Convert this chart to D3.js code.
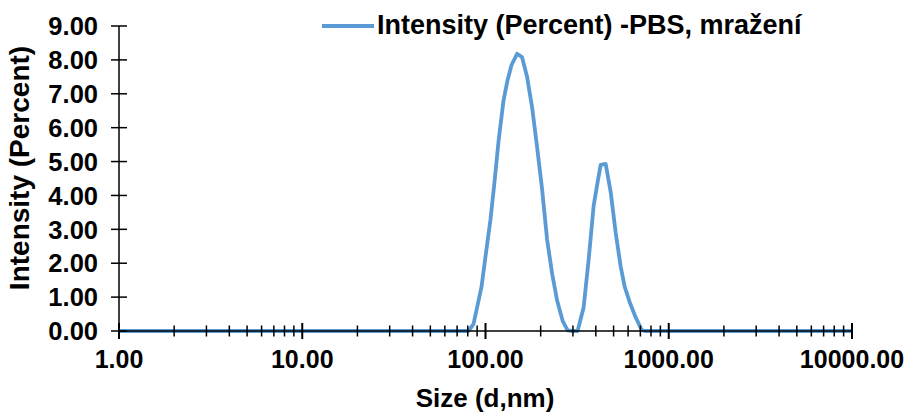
<!DOCTYPE html>
<html>
<head>
<meta charset="utf-8">
<script src="https://cdn.jsdelivr.net/npm/d3@7"></script>
<style>
  html, body { margin: 0; padding: 0; background: #fff; }
  svg text { font-family: "Liberation Sans", Arial, sans-serif; font-weight: bold; fill: #000; }
</style>
</head>
<body>
<svg id="chart" width="907" height="416"></svg>
<script>
// ---- data ----
const sizes = [1, 80.7, 86.0, 90.4, 95.1, 100.0, 106.5, 112.0, 117.8, 125.4, 131.9, 138.7, 148.7, 158.3, 168.6, 179.6, 191.1, 203.5, 216.8, 230.9, 245.9, 263.6, 280.6, 298.8, 318.2, 343.2, 365.4, 389.3, 409.3, 425.1, 452.6, 482.2, 513.4, 546.7, 575.0, 612.3, 660.2, 712.1, 739.5, 10000];
const intensity = [0, 0, 0.2, 0.75, 1.3, 2.2, 3.3, 4.4, 5.6, 6.8, 7.4, 7.85, 8.18, 8.08, 7.5, 6.6, 5.44, 4.2, 2.7, 1.7, 0.9, 0.3, 0.02, 0, 0, 0.7, 2.1, 3.7, 4.4, 4.9, 4.93, 4.1, 2.9, 1.9, 1.3, 0.85, 0.4, 0.03, 0, 0];
const yTicks = [0, 1, 2, 3, 4, 5, 6, 7, 8, 9];
const xMajor = [1, 10, 100, 1000, 10000];
const seriesName = "Intensity (Percent) -PBS, mražení";
const xTitle = "Size (d,nm)";
const yTitle = "Intensity (Percent)";

// ---- layout ----
const pLeft = 119, pRight = 852, pTop = 26, pBottom = 331;
const svg = d3.select("#chart");
const x = d3.scaleLog().domain([1, 10000]).range([pLeft, pRight]);
const y = d3.scaleLinear().domain([0, 9]).range([pBottom, pTop]);
const color = "#5B9BD5";

// minor ticks
const xMinor = [];
for (let p = 0; p < 4; p++) for (let k = 2; k <= 9; k++) xMinor.push(k * Math.pow(10, p));

const g = svg.append("g");

// line
const pts = sizes.map((s, i) => [s, intensity[i]]);
g.append("path")
  .datum(pts)
  .attr("fill", "none")
  .attr("stroke", color)
  .attr("stroke-width", 3.8)
  .attr("stroke-linejoin", "round")
  .attr("d", d3.line().x(d => x(d[0])).y(d => y(d[1])));

// y axis
g.append("line").attr("x1", pLeft).attr("x2", pLeft).attr("y1", pTop).attr("y2", pBottom)
  .attr("stroke", "#000").attr("stroke-width", 1.5);
g.selectAll(".yt").data(yTicks).enter().append("line")
  .attr("x1", pLeft - 8).attr("x2", pLeft + 8)
  .attr("y1", d => y(d)).attr("y2", d => y(d))
  .attr("stroke", "#000").attr("stroke-width", 1.5);
g.selectAll(".yl").data(yTicks).enter().append("text")
  .attr("x", 98).attr("y", d => y(d))
  .attr("dy", "0.36em")
  .attr("text-anchor", "end")
  .attr("font-size", 25.5)
  .text(d => d.toFixed(2));

// x axis
g.append("line").attr("x1", pLeft).attr("x2", pRight).attr("y1", pBottom).attr("y2", pBottom)
  .attr("stroke", "#000").attr("stroke-width", 1.5);
g.selectAll(".xm").data(xMinor).enter().append("line")
  .attr("x1", d => x(d)).attr("x2", d => x(d))
  .attr("y1", pBottom - 5.5).attr("y2", pBottom + 5.5)
  .attr("stroke", "#000").attr("stroke-width", 1.5);
g.selectAll(".xM").data(xMajor).enter().append("line")
  .attr("x1", d => x(d)).attr("x2", d => x(d))
  .attr("y1", pBottom - 8).attr("y2", pBottom + 8)
  .attr("stroke", "#000").attr("stroke-width", 2);
g.selectAll(".xl").data(xMajor).enter().append("text")
  .attr("x", d => x(d)).attr("y", 368)
  .attr("text-anchor", "middle")
  .attr("font-size", 25)
  .text(d => d.toFixed(2));

// titles
g.append("text").attr("x", 485).attr("y", 407)
  .attr("text-anchor", "middle").attr("font-size", 26).text(xTitle);
g.append("text")
  .attr("transform", `translate(29, 168) rotate(-90)`)
  .attr("text-anchor", "middle").attr("font-size", 28).text(yTitle);

// legend
g.append("line").attr("x1", 322).attr("x2", 374).attr("y1", 26).attr("y2", 26)
  .attr("stroke", color).attr("stroke-width", 3.8);
g.append("text").attr("x", 377).attr("y", 34).attr("font-size", 27).text(seriesName);
</script>
</body>
</html>
